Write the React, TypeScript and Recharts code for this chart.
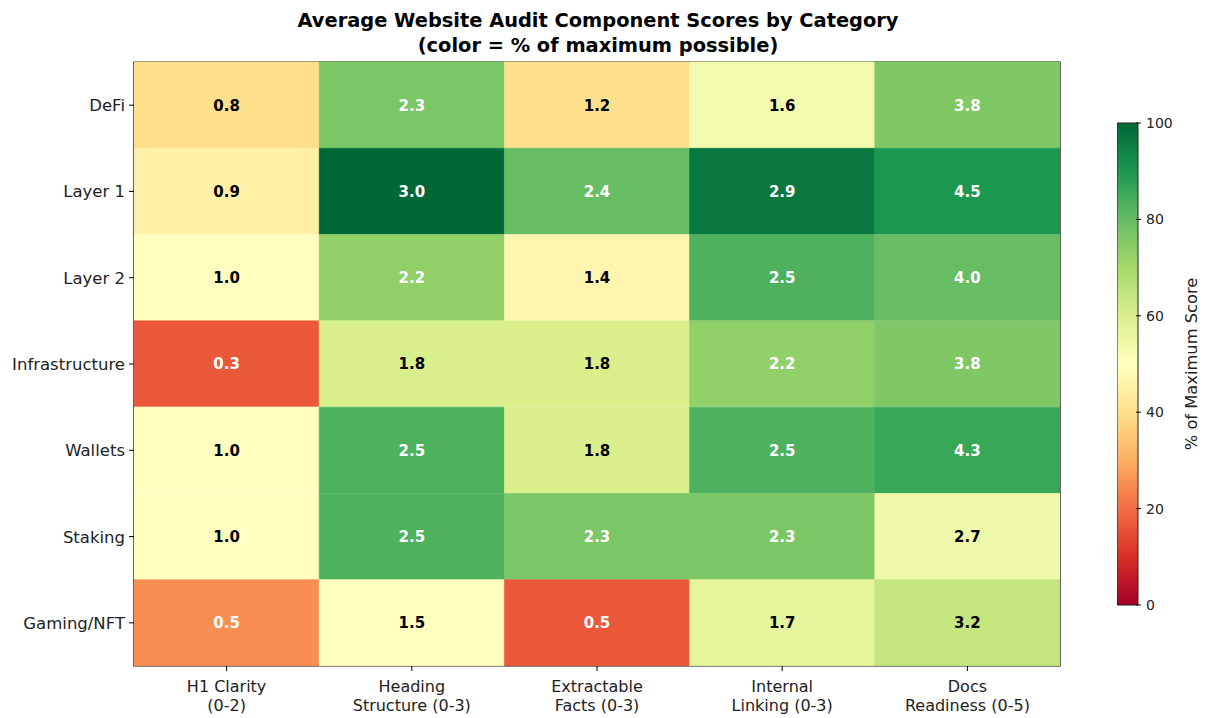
import { BarChart, Bar, XAxis, YAxis, Cell, LabelList, ReferenceArea } from 'recharts';

const categories = ['DeFi', 'Layer 1', 'Layer 2', 'Infrastructure', 'Wallets', 'Staking', 'Gaming/NFT'];
const components = ['H1 Clarity (0-2)', 'Heading Structure (0-3)', 'Extractable Facts (0-3)', 'Internal Linking (0-3)', 'Docs Readiness (0-5)'];
const componentLines = [
  ['H1 Clarity', '(0-2)'],
  ['Heading', 'Structure (0-3)'],
  ['Extractable', 'Facts (0-3)'],
  ['Internal', 'Linking (0-3)'],
  ['Docs', 'Readiness (0-5)']
];
const maxScores = [2, 3, 3, 3, 5];

const h1Clarity = [0.8, 0.9, 1.0, 0.33, 1.0, 1.0, 0.5];
const headingStructure = [2.3, 3.0, 2.2, 1.8, 2.5, 2.5, 1.5];
const extractableFacts = [1.2, 2.4, 1.4, 1.8, 1.8, 2.3, 0.5];
const internalLinking = [1.6, 2.9, 2.5, 2.2, 2.5, 2.3, 1.7];
const docsReadiness = [3.8, 4.5, 4.0, 3.8, 4.3, 2.7, 3.2];

const colorbarTicks = [0, 20, 40, 60, 80, 100];

const scores = [h1Clarity, headingStructure, extractableFacts, internalLinking, docsReadiness];

// RdYlGn anchor colours
const RDYLGN = [
  '#a50026', '#d73027', '#f46d43', '#fdae61', '#fee08b', '#ffffbf',
  '#d9ef8b', '#a6d96a', '#66bd63', '#1a9850', '#006837'
];

function hexToRgb(h: string) {
  return [parseInt(h.slice(1, 3), 16), parseInt(h.slice(3, 5), 16), parseInt(h.slice(5, 7), 16)];
}

function rdylgn(t: number) {
  const c = Math.max(0, Math.min(1, t)) * 10;
  const i = Math.min(9, Math.floor(c));
  const f = c - i;
  const a = hexToRgb(RDYLGN[i]);
  const b = hexToRgb(RDYLGN[i + 1]);
  const m = a.map((v, k) => Math.round(v + (b[k] - v) * f));
  return `rgb(${m[0]},${m[1]},${m[2]})`;
}

const rows = categories.map((name, r) => {
  const row: Record<string, any> = { name };
  components.forEach((_, c) => {
    row[`v${c}`] = scores[c][r];
    row[`p${c}`] = (scores[c][r] / maxScores[c]) * 100;
  });
  return row;
});

const FONT = '"DejaVu Sans", sans-serif';

function XTick(props: any) {
  const { x, y, index } = props;
  const lines = componentLines[index] || [];
  return (
    <g>
      <line x1={x} x2={x} y1={y - 8} y2={y - 3} stroke="#000" />
      {lines.map((l, i) => (
        <text key={i} x={x} y={y + 18 + i * 19} textAnchor="middle" fontSize={16} fontFamily={FONT} fill="#222">
          {l}
        </text>
      ))}
    </g>
  );
}

function YTick(props: any) {
  const { x, y, payload } = props;
  return (
    <g>
      <line x1={x + 3} x2={x + 8} y1={y} y2={y} stroke="#000" />
      <text x={x - 1} y={y} dy={6} textAnchor="end" fontSize={16.5} fontFamily={FONT} fill="#222">
        {payload.value}
      </text>
    </g>
  );
}

function cellLabel(col: number) {
  return (props: any) => {
    const { x, y, width, height, index } = props;
    const row = rows[index];
    const pct = row[`p${col}`];
    const white = pct > 70 || pct < 30;
    return (
      <text
        x={x + width / 2}
        y={y + height / 2}
        dy={5.5}
        textAnchor="middle"
        fontSize={15}
        fontWeight="bold"
        fontFamily={FONT}
        fill={white ? '#fff' : '#000'}
      >
        {Number(row[`v${col}`]).toFixed(1)}
      </text>
    );
  };
}

function ColorbarTick(props: any) {
  const { x, y, payload } = props;
  return (
    <g>
      <line x1={x - 10} x2={x - 5} y1={y} y2={y} stroke="#000" />
      <text x={x} y={y} dy={5} fontSize={14} fontFamily={FONT} fill="#222">
        {payload.value}
      </text>
    </g>
  );
}

export default function App() {
  return (
    <div style={{ position: 'fixed', left: 0, top: 0, width: 1205, height: 718, background: '#fff', fontFamily: FONT }}>
      <div
        style={{
          position: 'absolute',
          left: 0,
          width: 1196,
          top: 8,
          textAlign: 'center',
          fontWeight: 'bold',
          fontSize: 19.4,
          lineHeight: '25px',
          color: '#000'
        }}
      >
        Average Website Audit Component Scores by Category
        <br />
        (color = % of maximum possible)
      </div>

      <div style={{ position: 'absolute', left: 0, top: 0 }}>
        <BarChart
          width={1205}
          height={718}
          data={rows}
          layout="vertical"
          barCategoryGap={0}
          margin={{ top: 62, right: 145, bottom: 0, left: 0 }}
        >
          <XAxis
            type="number"
            domain={[0, 5]}
            ticks={[0.5, 1.5, 2.5, 3.5, 4.5]}
            height={52}
            axisLine={false}
            tickLine={false}
            tick={<XTick />}
            interval={0}
            allowDataOverflow
          />
          <YAxis
            type="category"
            dataKey="name"
            width={134}
            axisLine={false}
            tickLine={false}
            tick={<YTick />}
            interval={0}
          />
          {components.map((comp, c) => (
            <Bar key={comp} dataKey={() => 1} stackId="heat" isAnimationActive={false}>
              {rows.map((row, r) => {
                const col = rdylgn(row[`p${c}`] / 100);
                return <Cell key={r} fill={col} stroke={col} strokeWidth={0.6} />;
              })}
              <LabelList content={cellLabel(c)} />
            </Bar>
          ))}
          <ReferenceArea x1={0} x2={5} fill="none" stroke="#000" strokeWidth={1.2} ifOverflow="visible" />
        </BarChart>
      </div>

      <div style={{ position: 'absolute', left: 1117, top: 113 }}>
        <BarChart
          width={100}
          height={502}
          data={[{ name: 'cb', value: 100 }]}
          barCategoryGap={0}
          margin={{ top: 10, right: 0, bottom: 10, left: 0 }}
        >
          <defs>
            <linearGradient id="cbGrad" x1="0" y1="1" x2="0" y2="0">
              {RDYLGN.map((c, i) => (
                <stop key={i} offset={`${i * 10}%`} stopColor={c} />
              ))}
            </linearGradient>
          </defs>
          <XAxis dataKey="name" hide />
          <YAxis
            orientation="right"
            type="number"
            domain={[0, 100]}
            ticks={colorbarTicks}
            width={79}
            axisLine={false}
            tickLine={false}
            tick={<ColorbarTick />}
            interval={0}
            label={{
              value: '% of Maximum Score',
              angle: -90,
              position: 'center',
              dx: 14,
              style: { fontSize: 16.3, fontFamily: FONT, fill: '#222', textAnchor: 'middle' }
            }}
          />
          <Bar dataKey="value" fill="url(#cbGrad)" stroke="#222" strokeWidth={1} isAnimationActive={false} />
        </BarChart>
      </div>
    </div>
  );
}
